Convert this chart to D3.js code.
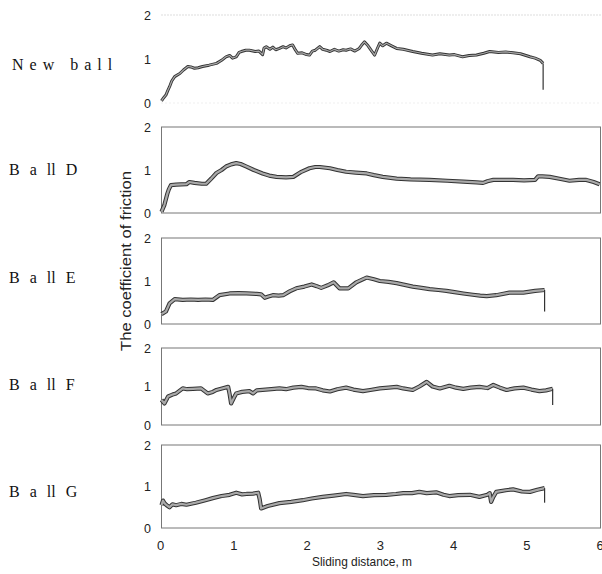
<!DOCTYPE html>
<html><head><meta charset="utf-8">
<script src="https://cdn.jsdelivr.net/npm/d3@7"></script>
<style>
html,body{margin:0;padding:0;background:#fff;}
svg{display:block;}
</style></head>
<body>
<svg id="chart" width="602" height="574"></svg>
<script>
// ---- data ----
const panelNames = ["New ball", "Ball D", "Ball E", "Ball F", "Ball G"];
const xTicks = [0, 1, 2, 3, 4, 5, 6];
const yTicks = [0, 1, 2];
const xTitle = "Sliding distance, m";
const yTitle = "The coefficient of friction";

const newBall = [[0,0.05],[0.03,0.12],[0.06,0.18],[0.09,0.3],[0.11,0.37],[0.14,0.5],[0.18,0.6],[0.25,0.67],[0.3,0.75],[0.36,0.83],[0.4,0.82],[0.45,0.79],[0.5,0.8],[0.56,0.83],[0.65,0.86],[0.75,0.9],[0.82,0.97],[0.88,1.05],[0.93,1.08],[0.97,1.02],[1.02,1.05],[1.06,1.15],[1.09,1.17],[1.15,1.2],[1.2,1.2],[1.28,1.17],[1.33,1.18],[1.38,1.1],[1.4,1.25],[1.43,1.28],[1.48,1.22],[1.52,1.27],[1.56,1.21],[1.61,1.24],[1.66,1.28],[1.7,1.25],[1.75,1.3],[1.79,1.32],[1.83,1.2],[1.86,1.13],[1.92,1.14],[1.98,1.1],[2.02,1.09],[2.06,1.18],[2.1,1.2],[2.16,1.28],[2.2,1.22],[2.25,1.2],[2.3,1.17],[2.36,1.22],[2.42,1.18],[2.48,1.21],[2.52,1.2],[2.58,1.23],[2.64,1.18],[2.7,1.24],[2.74,1.33],[2.77,1.39],[2.82,1.3],[2.87,1.18],[2.91,1.09],[2.95,1.25],[2.98,1.36],[3.02,1.3],[3.07,1.36],[3.14,1.3],[3.21,1.24],[3.3,1.22],[3.43,1.17],[3.55,1.13],[3.7,1.09],[3.8,1.12],[3.93,1.09],[4.0,1.1],[4.11,1.05],[4.2,1.08],[4.3,1.09],[4.4,1.13],[4.48,1.17],[4.6,1.15],[4.7,1.16],[4.8,1.14],[4.9,1.12],[5.03,1.05],[5.1,1.02],[5.17,0.97],[5.21,0.9],[5.21,0.3]];

const ballD = [[0,0.03],[0.04,0.19],[0.08,0.45],[0.1,0.55],[0.13,0.65],[0.2,0.66],[0.34,0.67],[0.38,0.72],[0.45,0.7],[0.55,0.68],[0.61,0.68],[0.68,0.8],[0.75,0.93],[0.82,1.0],[0.88,1.08],[0.95,1.13],[1.02,1.16],[1.08,1.14],[1.16,1.08],[1.26,1.0],[1.38,0.92],[1.47,0.87],[1.57,0.84],[1.7,0.83],[1.8,0.84],[1.9,0.95],[2.02,1.04],[2.1,1.07],[2.16,1.07],[2.3,1.04],[2.4,1.0],[2.52,0.96],[2.65,0.94],[2.8,0.92],[2.9,0.88],[3.02,0.84],[3.21,0.8],[3.4,0.78],[3.66,0.77],[3.9,0.75],[4.12,0.73],[4.3,0.71],[4.39,0.7],[4.45,0.74],[4.53,0.77],[4.65,0.77],[4.8,0.77],[4.95,0.76],[5.1,0.77],[5.14,0.85],[5.2,0.85],[5.3,0.84],[5.45,0.79],[5.57,0.75],[5.7,0.77],[5.8,0.77],[5.9,0.72],[5.98,0.67]];

const ballE = [[0,0.23],[0.06,0.29],[0.11,0.48],[0.18,0.58],[0.29,0.56],[0.4,0.57],[0.5,0.56],[0.6,0.57],[0.7,0.56],[0.79,0.67],[0.93,0.71],[1.05,0.72],[1.16,0.71],[1.3,0.7],[1.36,0.69],[1.41,0.61],[1.46,0.64],[1.52,0.67],[1.6,0.66],[1.66,0.67],[1.75,0.76],[1.84,0.83],[1.95,0.87],[2.05,0.92],[2.12,0.88],[2.18,0.84],[2.27,0.9],[2.35,0.97],[2.43,0.83],[2.55,0.83],[2.66,0.97],[2.8,1.08],[2.9,1.04],[2.98,1.0],[3.1,0.98],[3.21,0.95],[3.32,0.91],[3.43,0.87],[3.55,0.84],[3.66,0.81],[3.78,0.79],[3.89,0.77],[4.0,0.74],[4.12,0.71],[4.25,0.68],[4.35,0.66],[4.44,0.65],[4.57,0.67],[4.75,0.73],[4.94,0.73],[5.1,0.77],[5.23,0.79],[5.23,0.29]];

const ballF = [[0,0.65],[0.04,0.56],[0.09,0.74],[0.15,0.79],[0.2,0.82],[0.29,0.95],[0.35,0.93],[0.43,0.94],[0.54,0.95],[0.63,0.82],[0.7,0.86],[0.75,0.91],[0.85,0.96],[0.91,0.99],[0.93,0.8],[0.95,0.56],[1.0,0.75],[1.02,0.82],[1.1,0.86],[1.2,0.88],[1.25,0.82],[1.3,0.9],[1.38,0.91],[1.5,0.93],[1.61,0.95],[1.7,0.93],[1.8,0.97],[1.91,0.99],[2.0,0.96],[2.11,0.95],[2.2,0.9],[2.3,0.87],[2.4,0.93],[2.52,0.97],[2.62,0.92],[2.75,0.88],[2.85,0.91],[2.98,0.95],[3.1,0.97],[3.21,0.99],[3.3,0.95],[3.43,0.91],[3.52,1.0],[3.62,1.12],[3.7,1.0],[3.8,0.95],[3.93,1.02],[4.02,0.97],[4.12,0.94],[4.22,0.97],[4.34,0.99],[4.45,0.96],[4.53,1.04],[4.62,0.97],[4.71,0.91],[4.82,0.95],[4.94,0.97],[5.05,0.92],[5.16,0.88],[5.25,0.9],[5.34,0.94],[5.34,0.52]];

const ballG = [[0,0.55],[0.02,0.66],[0.04,0.6],[0.07,0.55],[0.11,0.5],[0.15,0.57],[0.2,0.55],[0.27,0.58],[0.34,0.56],[0.47,0.61],[0.6,0.67],[0.7,0.72],[0.82,0.77],[0.93,0.8],[1.02,0.85],[1.1,0.81],[1.16,0.82],[1.25,0.83],[1.32,0.85],[1.34,0.7],[1.36,0.47],[1.45,0.53],[1.61,0.6],[1.77,0.63],[1.93,0.67],[2.05,0.71],[2.2,0.75],[2.35,0.78],[2.52,0.82],[2.62,0.8],[2.75,0.77],[2.9,0.79],[3.07,0.8],[3.2,0.82],[3.3,0.84],[3.42,0.84],[3.52,0.87],[3.62,0.84],[3.75,0.86],[3.85,0.8],[3.93,0.77],[4.05,0.79],[4.21,0.8],[4.34,0.75],[4.45,0.8],[4.48,0.84],[4.5,0.63],[4.53,0.75],[4.57,0.87],[4.7,0.91],[4.8,0.93],[4.92,0.88],[5.03,0.87],[5.13,0.92],[5.23,0.96],[5.23,0.61]];

const seriesList = [newBall, ballD, ballE, ballF, ballG];

// ---- layout ----
const panelTops = [15, 127, 238, 348, 445];
const panelBottoms = [103, 213, 324, 425, 528];
const labelBaselines = [70, 175, 283, 390, 497];
const xLeft = 161.5, xRight = 601;

const svg = d3.select("#chart");
const x = d3.scaleLinear().domain([0, 6]).range([xLeft, xRight]);
const sans = "'Liberation Sans', Arial, sans-serif";
const serif = "'Liberation Serif', 'Times New Roman', serif";

seriesList.forEach((data, i) => {
  const y = d3.scaleLinear().domain([0, 2]).range([panelBottoms[i], panelTops[i]]);
  const g = svg.append("g");
  const w = x(6) - x(0), h = y(0) - y(2);

  if (i === 0) {
    g.append("line").attr("x1", x(0)).attr("x2", x(6)).attr("y1", y(2)).attr("y2", y(2))
      .attr("stroke", "#bbb").attr("stroke-width", 1).attr("stroke-dasharray", "1,2");
    g.append("line").attr("x1", x(0)).attr("x2", x(6)).attr("y1", y(0)).attr("y2", y(0))
      .attr("stroke", "#ddd").attr("stroke-width", 1).attr("stroke-dasharray", "1,3");
  } else {
    g.append("rect").attr("x", x(0)).attr("y", y(2)).attr("width", w - 0.5).attr("height", h)
      .attr("fill", "none").attr("stroke", "#777").attr("stroke-width", 1);
  }

  g.selectAll("text.yt").data(yTicks).join("text")
    .attr("class", "yt")
    .attr("x", 151).attr("y", d => y(d))
    .attr("dy", "0.36em")
    .attr("text-anchor", "end")
    .attr("font-family", sans).attr("font-size", 12.5).attr("fill", "#222")
    .text(d => d);

  // split off a final vertical drop (same distance) to draw it as a thin line
  const n = data.length;
  const hasDrop = n > 1 && data[n - 1][0] === data[n - 2][0];
  const body = hasDrop ? data.slice(0, n - 1) : data;
  const line = d3.line().x(d => x(d[0])).y(d => y(d[1]));
  const isNew = i === 0;
  g.append("path").datum(body).attr("d", line)
    .attr("fill", "none").attr("stroke", "#333")
    .attr("stroke-width", isNew ? 3 : 4.2).attr("stroke-linejoin", "round");
  g.append("path").datum(body).attr("d", line)
    .attr("fill", "none").attr("stroke", "#a9a9a9")
    .attr("stroke-width", isNew ? 1.2 : 2.2).attr("stroke-linejoin", "round");
  if (hasDrop) {
    g.append("path").datum(data.slice(n - 2)).attr("d", line)
      .attr("fill", "none").attr("stroke", "#333").attr("stroke-width", 1.2);
  }

  const lab = svg.append("text")
    .attr("x", i === 0 ? 12 : 9).attr("y", labelBaselines[i])
    .attr("font-family", serif).attr("font-size", 16).attr("fill", "#111")
    .style("white-space", "pre");
  if (i === 0) {
    lab.attr("letter-spacing", 6).text(panelNames[i]);
  } else {
    const parts = panelNames[i].split(" ");
    lab.attr("word-spacing", 6).text(parts[0][0] + " " + parts[0][1] + " " + parts[0].slice(2) + " " + parts[1]);
  }
});

svg.selectAll("text.xt").data(xTicks).join("text")
  .attr("class", "xt")
  .attr("x", d => x(d) - 1).attr("y", 550)
  .attr("text-anchor", "middle")
  .attr("font-family", sans).attr("font-size", 13).attr("fill", "#222")
  .text(d => d);

svg.append("text")
  .attr("x", 362).attr("y", 566)
  .attr("text-anchor", "middle")
  .attr("font-family", sans).attr("font-size", 13.5).attr("fill", "#222")
  .attr("textLength", 100).attr("lengthAdjust", "spacingAndGlyphs")
  .text(xTitle);

svg.append("text")
  .attr("transform", "translate(131,261) rotate(-90)")
  .attr("text-anchor", "middle")
  .attr("font-family", sans).attr("font-size", 14).attr("fill", "#222")
  .attr("textLength", 180).attr("lengthAdjust", "spacingAndGlyphs")
  .text(yTitle);
</script>
</body></html>
